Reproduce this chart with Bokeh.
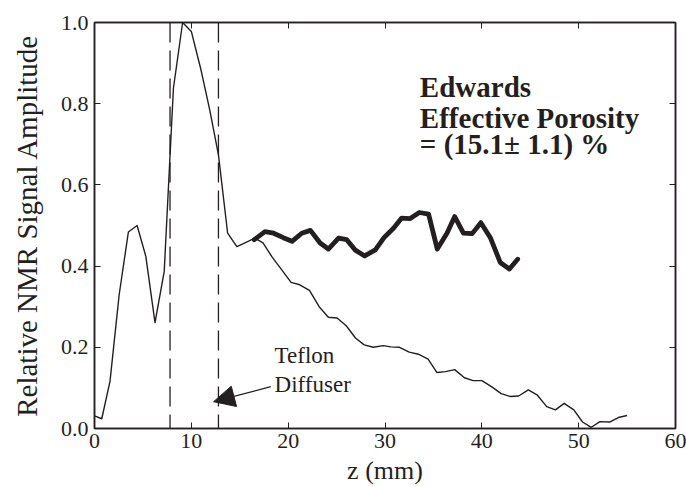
from bokeh.plotting import figure
from bokeh.models import (LinearAxis, Span, Arrow, NormalHead, Label, FixedTicker,
                          NumeralTickFormatter, Range1d)
from bokeh.embed import file_html
from bokeh.resources import INLINE

# ---- data ----
z_thin = [0.0, 0.75, 1.6, 2.55, 3.5, 4.4, 5.3, 6.25, 7.2, 8.15, 9.1, 10.0, 10.95,
          11.9, 12.8, 13.75, 14.7, 15.6, 16.55, 17.4, 18.35, 19.3, 20.3, 21.2, 22.2,
          23.2, 24.15, 25.05, 26.0, 26.95, 27.85, 28.8, 29.8, 30.6, 31.5, 32.5, 33.45,
          34.45, 35.35, 36.25, 37.2, 38.2, 39.1, 40.0, 41.0, 42.0, 42.9, 43.8, 44.8,
          45.7, 46.7, 47.6, 48.5, 49.5, 50.4, 51.3, 52.2, 53.2, 54.1, 55.0]
amp_thin = [0.031, 0.024, 0.116, 0.33, 0.484, 0.50, 0.424, 0.261, 0.387, 0.838, 1.0,
            0.978, 0.888, 0.785, 0.674, 0.481, 0.448, 0.458, 0.469, 0.457, 0.422, 0.392,
            0.36, 0.354, 0.34, 0.30, 0.274, 0.272, 0.253, 0.223, 0.206, 0.200, 0.204,
            0.201, 0.200, 0.188, 0.183, 0.171, 0.138, 0.140, 0.145, 0.125, 0.118, 0.118,
            0.103, 0.086, 0.079, 0.080, 0.095, 0.083, 0.054, 0.046, 0.062, 0.046, 0.016,
            0.003, 0.017, 0.016, 0.027, 0.032]

z_thick = [16.5, 17.6, 18.5, 19.5, 20.4, 21.4, 22.3, 23.3, 24.15, 25.2, 26.05, 26.9,
           27.9, 29.0, 29.9, 30.9, 31.7, 32.6, 33.55, 34.5, 35.4, 36.4, 37.2, 38.1,
           39.0, 39.9, 40.9, 41.9, 42.85, 43.7]
amp_thick = [0.465, 0.485, 0.481, 0.47, 0.461, 0.481, 0.488, 0.457, 0.442, 0.469, 0.465,
             0.44, 0.425, 0.44, 0.47, 0.494, 0.518, 0.517, 0.532, 0.528, 0.442, 0.481,
             0.522, 0.481, 0.48, 0.507, 0.469, 0.409, 0.393, 0.417]

diffuser_edges = [7.8, 12.8]
x_ticks = [0, 10, 20, 30, 40, 50, 60]
y_ticks = [0.0, 0.2, 0.4, 0.6, 0.8, 1.0]

INK = "#231f20"
SERIF = "Liberation Serif"

p = figure(width=686, height=487, x_range=Range1d(0, 60), y_range=Range1d(0, 1),
           output_backend="svg", toolbar_location=None,
           min_border_left=94, min_border_right=11, min_border_top=22,
           min_border_bottom=58, x_axis_location=None, y_axis_location=None)
p.grid.visible = False
p.outline_line_color = INK
p.outline_line_width = 1.5
p.background_fill_color = "white"
p.border_fill_color = "white"


def style_axis(ax, ticks, show_labels):
    ax.ticker = FixedTicker(ticks=ticks)
    ax.major_tick_in = 6
    ax.major_tick_out = 0
    ax.minor_tick_line_color = None
    ax.major_tick_line_color = INK
    ax.major_tick_line_width = 1
    ax.axis_line_color = INK
    ax.axis_line_width = 1.5
    if show_labels:
        ax.major_label_text_font = SERIF
        ax.major_label_text_font_size = "22px"
        ax.major_label_text_color = INK
        ax.major_label_standoff = 5
    else:
        # tick marks only (mirror axes on top / right)
        ax.major_label_text_font_size = "1px"
        ax.major_label_text_color = None
        ax.major_label_standoff = 0


bottom = LinearAxis(axis_label="z (mm)")
style_axis(bottom, x_ticks, True)
bottom.axis_label_text_font = SERIF
bottom.axis_label_text_font_size = "26px"
bottom.axis_label_text_font_style = "normal"
bottom.axis_label_text_color = INK
bottom.axis_label_standoff = 5
p.add_layout(bottom, "below")

left = LinearAxis(axis_label="Relative NMR Signal Amplitude",
                  formatter=NumeralTickFormatter(format="0.0"))
style_axis(left, y_ticks, True)
left.major_label_standoff = 6
left.axis_label_text_font = SERIF
left.axis_label_text_font_size = "29px"
left.axis_label_text_font_style = "normal"
left.axis_label_text_color = INK
left.axis_label_standoff = 15
p.add_layout(left, "left")

top = LinearAxis()
style_axis(top, x_ticks, False)
p.add_layout(top, "above")

right = LinearAxis()
style_axis(right, y_ticks, False)
p.add_layout(right, "right")

# diffuser boundaries
for xe in diffuser_edges:
    p.add_layout(Span(location=xe, dimension="height", line_color=INK,
                      line_width=1.3, line_dash="20 8"))

p.line(z_thin, amp_thin, line_color=INK, line_width=1.4, line_join="round")
p.line(z_thick, amp_thick, line_color=INK, line_width=4.8, line_join="round",
       line_cap="round")

# annotations
p.add_layout(Arrow(end=NormalHead(size=21, fill_color=INK, line_color=INK),
                   x_start=18.2, y_start=0.103, x_end=12.3, y_end=0.066,
                   line_color=INK, line_width=1.3))

for txt, yy in [("Teflon", 0.179), ("Diffuser", 0.108)]:
    p.add_layout(Label(x=18.6, y=yy, text=txt, text_font=SERIF,
                       text_font_size="23px", text_color=INK,
                       text_baseline="alphabetic"))

for txt, yy in [("Edwards", 0.8416), ("Effective Porosity", 0.765),
                ("= (15.1\u00b1 1.1) %", 0.701)]:
    p.add_layout(Label(x=33.6, y=yy, text=txt, text_font=SERIF,
                       text_font_size="29px", text_font_style="bold",
                       text_color=INK, text_baseline="alphabetic"))

open("out.html", "w").write(file_html(p, INLINE))
